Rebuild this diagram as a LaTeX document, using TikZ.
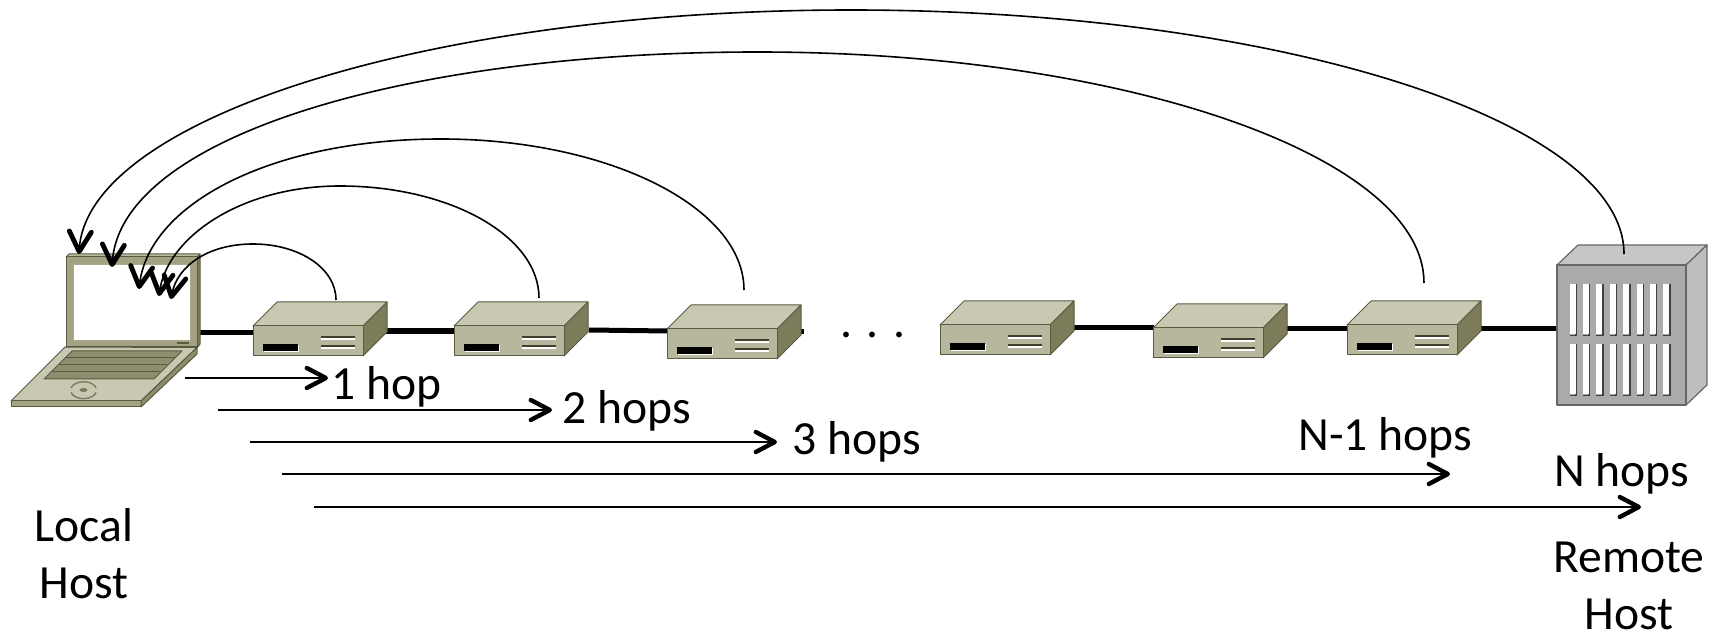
\documentclass[tikz,border=0pt]{standalone}
\usepackage{fontspec}
\setmainfont{Carlito}
\usetikzlibrary{arrows.meta}
\definecolor{rtop}{HTML}{C9C9B3}
\definecolor{rfront}{HTML}{B7B79D}
\definecolor{rside}{HTML}{7C7C5B}
\definecolor{rline}{HTML}{5A5A40}
\definecolor{lframe}{HTML}{A3A383}
\definecolor{stop}{HTML}{C6C6C6}
\definecolor{sfront}{HTML}{A9ABAB}
\definecolor{sside}{HTML}{BDBFBF}
\definecolor{sline}{HTML}{666868}
\tikzset{
 link/.style={line width=2.5pt,black},
 hoparc/.style={line width=0.8pt,black,-{Straight Barb[length=10pt,width=11pt,line width=2.4pt,round]}},
 hoparrow/.style={line width=0.8pt,black,-{Straight Barb[length=9.5pt,width=10pt,line width=2.2pt,round]}},
 lbl/.style={font=\fontsize{23.8}{26}\selectfont,anchor=base west,inner sep=0pt},
 lblc/.style={font=\fontsize{23.8}{26}\selectfont,anchor=base,inner sep=0pt},
 rface/.style={draw=rline,line width=0.5pt,line join=round},
 sface/.style={draw=sline,line width=0.6pt,line join=round},
}
\newcommand{\router}[3]{%
 \coordinate (#1) at (#2,#3);
 \begin{scope}[shift={(#2,#3)}]
  \fill[rface,fill=rtop] (0,0) -- (24,-24) -- (134,-24) -- (110,0) -- cycle;
  \fill[rface,fill=rside] (110,0) -- (134,-24) -- (134,6) -- (110,30) -- cycle;
  \fill[rface,fill=rfront] (0,0) rectangle (110,30);
  \fill[white] (11,19) rectangle (46,26);
  \fill[black] (10,18) rectangle (45,25);
  \fill[white] (68,11) rectangle (102,14);
  \fill[white] (68,20) rectangle (102,23);
  \fill[rline!70!black] (68,10) rectangle (102,12.5);
  \fill[rline!70!black] (68,19) rectangle (102,21.5);
 \end{scope}}
\begin{document}
\begin{tikzpicture}[x=0.5pt,y=-0.5pt]
\useasboundingbox (0,0) rectangle (1715,636);
% link end points
\coordinate (lapR) at (198,333);
\coordinate (r1L) at (254,333);
\coordinate (r1R) at (386,331);
\coordinate (r2L) at (455,331);
\coordinate (r2R) at (589,330);
\coordinate (r3L) at (668,331);
\coordinate (r3R) at (800,332);
\coordinate (r3S) at (804,332);
\coordinate (r4R) at (1074,328);
\coordinate (r5L) at (1154,328);
\coordinate (r5R) at (1287,329);
\coordinate (r6L) at (1348,329);
\coordinate (r6R) at (1480,329);
\coordinate (srvL) at (1560,329);
% links
\draw[link] (lapR) -- (r1L);
\draw[line width=3.4pt] (r1R) -- (r2L);
\draw[link] (r2R) -- (r3L);
\draw[link] (r3R) -- (r3S);
\draw[link] (r4R) -- (r5L);
\draw[link] (r5R) -- (r6L);
\draw[link] (r6R) -- (srvL);
% laptop
\coordinate (laptop) at (66,254);
\fill[rface,fill=rside] (197,257) -- (200,254) -- (200,344) -- (197,348) -- cycle;
\fill[rface,fill=rtop!80!rside] (66,257) -- (69,254) -- (200,254) -- (197,257) -- cycle;
\fill[rface,fill=lframe] (66,257) rectangle (197,347);
\fill[rface,fill=white,draw=rtop!60!rside] (73,265) rectangle (190,341);
\fill[rline] (177,342) rectangle (189,344.5);
\fill[rface,fill=rtop] (11,401) -- (65,347) -- (197,347.5) -- (141,401) -- cycle;
\fill[rface,fill=lframe] (11,401) rectangle (141,407);
\fill[rface,fill=rside!70!rfront] (141,401) -- (197,347.5) -- (197,354) -- (141,407) -- cycle;
\fill[rface,fill=rside!70!rfront] (72,351) -- (182,351) -- (154,379) -- (44,379) -- cycle;
\draw[rline,line width=0.5pt] (65,358) -- (175,358);
\draw[rline,line width=0.5pt] (58,365) -- (167,365);
\draw[rline,line width=0.5pt] (51,372) -- (160,372);
\draw[rside,line width=0.7pt] (71,388) arc[start angle=195,end angle=345,x radius=13,y radius=8.5];
\draw[rside,line width=0.7pt] (71,392.4) arc[start angle=165,end angle=15,x radius=13,y radius=8.5];
\fill[rside] (83.5,390) ellipse[x radius=4,y radius=2];
% routers
\router{r1}{253}{326}
\router{r2}{454}{326}
\router{r3}{667}{329}
\router{r4}{940}{325}
\router{r5}{1153}{328}
\router{r6}{1347}{325}
% server
\coordinate (srv) at (1557,265);
\begin{scope}[shift={(1557,265)}]
 \fill[sface,fill=stop] (0,0) -- (21,-20) -- (150,-20) -- (129,0) -- cycle;
 \fill[sface,fill=sside] (129,0) -- (150,-20) -- (150,120) -- (129,140) -- cycle;
 \fill[sface,fill=sfront] (0,0) rectangle (129,140);
 \foreach \i in {0,...,7}{
  \fill[black!75] ({13.4*\i+12.5+5.5},19) rectangle ({13.4*\i+12.5+7.5},70);
  \fill[black!75] ({13.4*\i+12.5},70) rectangle ({13.4*\i+12.5+7.5},70.7);
  \fill[black!75] ({13.4*\i+12.5+5.5},79) rectangle ({13.4*\i+12.5+7.5},130);
  \fill[black!75] ({13.4*\i+12.5},130) rectangle ({13.4*\i+12.5+7.5},130.7);
  \fill[white] ({13.4*\i+12.5},19) rectangle ({13.4*\i+12.5+6},69.5);
  \fill[white] ({13.4*\i+12.5},79) rectangle ({13.4*\i+12.5+6},129.5);
 }
\end{scope}
% arcs
\coordinate (s1) at (336,300); \coordinate (t1) at (253,244); \coordinate (h1) at (171,299);
\coordinate (s2) at (539,298); \coordinate (t2) at (340,186); \coordinate (h2) at (159,296);
\coordinate (s3) at (744,290); \coordinate (t3) at (441,139); \coordinate (h3) at (139,289);
\coordinate (s4) at (1424,283); \coordinate (t4) at (758,52); \coordinate (h4) at (112,267);
\coordinate (s5) at (1624,254); \coordinate (t5) at (851,10); \coordinate (h5) at (79,254);
\draw[hoparc] (s1) .. controls +(0,-32) and +(46,0) .. (t1) .. controls +(-45,0) and +(6,-33) .. (h1);
\draw[hoparc] (s2) .. controls +(0,-62) and +(110,0) .. (t2) .. controls +(-100,0) and +(8,-58) .. (h2);
\draw[hoparc] (s3) .. controls +(0,-83) and +(167,0) .. (t3) .. controls +(-170,0) and +(10,-85) .. (h3);
\draw[hoparc] (s4) .. controls +(0,-127) and +(366,0) .. (t4) .. controls +(-360,0) and +(8,-128) .. (h4);
\draw[hoparc] (s5) .. controls +(0,-134) and +(425,0) .. (t5) .. controls +(-425,0) and +(8,-134) .. (h5);
% hop arrows
\coordinate (a1) at (185,378); \coordinate (b1) at (328,378);
\coordinate (a2) at (218,410); \coordinate (b2) at (552,410);
\coordinate (a3) at (250,442); \coordinate (b3) at (777,442);
\coordinate (a4) at (282,474); \coordinate (b4) at (1450,474);
\coordinate (a5) at (314,507); \coordinate (b5) at (1641,507);
\draw[hoparrow] (a1) -- (b1);
\draw[hoparrow] (a2) -- (b2);
\draw[hoparrow] (a3) -- (b3);
\draw[hoparrow] (a4) -- (b4);
\draw[hoparrow] (a5) -- (b5);
% labels
\node[lbl] (l1) at (331,400) {1 hop};
\node[lbl] (l2) at (562,423) {2 hops};
\node[lbl] (l3) at (792,455) {3 hops};
\node[lbl] (l4) at (1298,451) {N-1 hops};
\node[lbl] (l5) at (1554,487) {N hops};
\node[lbl] (dots) at (840,338) {. . .};
\node[lblc] (lh1) at (84,541) {Local};
\node[lblc] (lh2) at (84,598) {Host};
\node[lblc] (rh1) at (1629,572) {Remote};
\node[lblc] (rh2) at (1629,629) {Host};
\end{tikzpicture}
\end{document}
